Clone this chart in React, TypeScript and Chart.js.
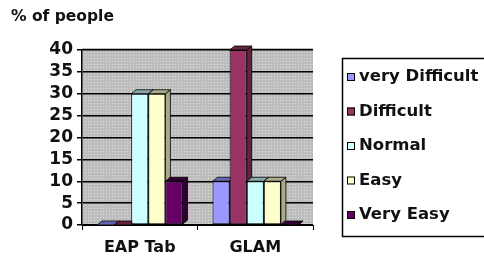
import React, { useEffect, useRef } from "react";
import { Chart, registerables } from "chart.js";

Chart.register(...registerables);

const categories = ["EAP Tab", "GLAM"];
const seriesNames = ["very Difficult", "Difficult", "Normal", "Easy", "Very Easy"];
const veryDifficult = [0, 10];
const difficult = [0, 40];
const normal = [30, 10];
const easy = [30, 10];
const veryEasy = [10, 0];
const seriesColors = ["#9999FF", "#993366", "#CCFFFF", "#FFFFCC", "#660066"];
const sideColors = ["#6666B0", "#66223F", "#88AAAA", "#AAAA88", "#330033"];
const yTicks = [0, 5, 10, 15, 20, 25, 30, 35, 40];
const titleText = "% of people";

const FONT = "'DejaVu Sans', Verdana, sans-serif";

export default function App() {
  const ref = useRef<HTMLCanvasElement | null>(null);

  useEffect(() => {
    const canvas = ref.current!;
    const tile = document.createElement("canvas");
    tile.width = 3;
    tile.height = 3;
    const tc = tile.getContext("2d")!;
    tc.fillStyle = "#BDBDBD";
    tc.fillRect(0, 0, 3, 3);
    tc.fillStyle = "#DCDCDC";
    tc.fillRect(1, 1, 1, 1);
    const pattern = canvas.getContext("2d")!.createPattern(tile, "repeat");

    const allData = [veryDifficult, difficult, normal, easy, veryEasy];

    const bgPlugin = {
      id: "bg",
      beforeDraw(chart: any) {
        const { ctx, chartArea: a } = chart;
        ctx.save();
        ctx.fillStyle = pattern;
        ctx.fillRect(a.left, a.top - 2, a.right - a.left, a.bottom - a.top + 2);
        ctx.restore();
        ctx.save();
        ctx.fillStyle = "#111";
        ctx.font = `bold 15.5px ${FONT}`;
        ctx.textBaseline = "middle";
        ctx.fillText(titleText, 11, 17);
        ctx.restore();
      },
    };

    const dx = 5;
    const dy = 4;
    const threeD = {
      id: "threeD",
      beforeDatasetsDraw(chart: any) {
        const { ctx } = chart;
        ctx.save();
        chart.data.datasets.forEach((ds: any, i: number) => {
          const meta = chart.getDatasetMeta(i);
          meta.data.forEach((el: any) => {
            const l = el.x - el.width / 2;
            const r = el.x + el.width / 2;
            const t = el.y;
            const b = el.base;
            ctx.lineWidth = 0.8;
            ctx.strokeStyle = "#000";
            ctx.fillStyle = sideColors[i];
            ctx.beginPath();
            ctx.moveTo(r, t);
            ctx.lineTo(r + dx, t - dy);
            ctx.lineTo(r + dx, b - dy);
            ctx.lineTo(r, b);
            ctx.closePath();
            ctx.fill();
            ctx.stroke();
            ctx.beginPath();
            ctx.moveTo(l, t);
            ctx.lineTo(l + dx, t - dy);
            ctx.lineTo(r + dx, t - dy);
            ctx.lineTo(r, t);
            ctx.closePath();
            ctx.fill();
            ctx.stroke();
          });
        });
        ctx.restore();
      },
    };

    const legendPlugin = {
      id: "customLegend",
      afterDraw(chart: any) {
        const { ctx } = chart;
        ctx.save();
        ctx.strokeStyle = "#000";
        ctx.lineWidth = 1.5;
        ctx.strokeRect(342.5, 58.5, 150, 178);
        ctx.font = `bold 16.5px ${FONT}`;
        ctx.textBaseline = "middle";
        seriesNames.forEach((n, i) => {
          const y = 77 + i * 34.5;
          ctx.fillStyle = seriesColors[i];
          ctx.fillRect(347, y - 4, 8, 8);
          ctx.lineWidth = 1;
          ctx.strokeRect(347.5, y - 3.5, 7, 7);
          ctx.fillStyle = "#111";
          ctx.fillText(n, 359, y);
        });
        ctx.restore();
      },
    };

    const chart = new Chart(canvas, {
      type: "bar",
      data: {
        labels: categories,
        datasets: seriesNames.map((n, i) => ({
          label: n,
          data: allData[i],
          backgroundColor: seriesColors[i],
          borderColor: "#000",
          borderWidth: 1,
          borderSkipped: false,
          categoryPercentage: 0.74,
          barPercentage: 1,
        })),
      },
      options: {
        responsive: false,
        animation: false,
        maintainAspectRatio: false,
        layout: { padding: { left: 0, right: 171, top: 50, bottom: 0 } },
        plugins: {
          legend: { display: false },
          title: { display: false },
          tooltip: { enabled: false },
        },
        scales: {
          x: {
            offset: true,
            grid: {
              display: true,
              offset: true,
              drawOnChartArea: false,
              drawTicks: true,
              tickLength: 5,
              color: "#000",
            },
            border: { display: true, color: "#000", width: 1 },
            ticks: {
              color: "#111",
              font: { family: FONT, size: 16, weight: "bold" },
              padding: 8,
            },
            afterFit(scale: any) {
              scale.height = 34;
            },
          },
          y: {
            min: 0,
            max: 40,
            afterBuildTicks(scale: any) {
              scale.ticks = yTicks.map((v) => ({ value: v }));
            },
            grid: {
              color: "#000",
              lineWidth: 1.5,
              drawTicks: true,
              tickLength: 5,
              tickColor: "#000",
            },
            border: { display: true, color: "#000", width: 1.5 },
            ticks: {
              color: "#111",
              font: { family: FONT, size: 17, weight: "bold", lineHeight: 1 },
              padding: 4,
              autoSkip: false,
            },
            afterFit(scale: any) {
              scale.width = 82;
            },
          },
        },
      },
      plugins: [bgPlugin, threeD, legendPlugin],
    });
    return () => chart.destroy();
  }, []);

  return (
    <div style={{ position: "fixed", left: 0, top: 0, width: 484, height: 259, background: "#fff" }}>
      <canvas ref={ref} width={484} height={259} style={{ width: 484, height: 259, display: "block" }} />
    </div>
  );
}
